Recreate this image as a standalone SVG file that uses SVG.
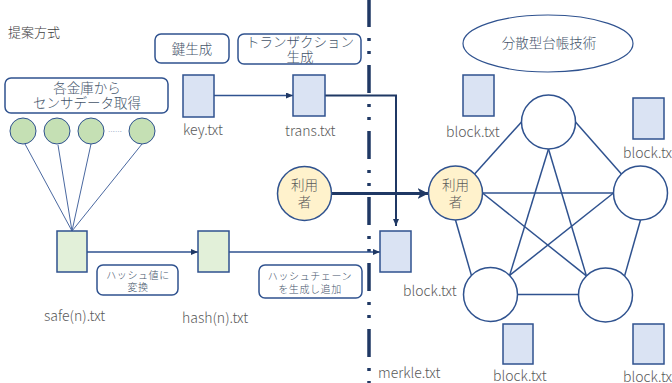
<svg xmlns="http://www.w3.org/2000/svg" width="672" height="383" viewBox="0 0 672 383">
  <style>
    text { font-family: "Noto Sans CJK JP", "Liberation Sans", sans-serif; font-weight: 300; }
    .lbl { font-size: 14px; fill: #595959; }
    .ttl { font-size: 13px; fill: #404040; }
    .btxt { font-size: 13.5px; fill: #44546A; text-anchor: middle; }
    .stxt { font-size: 10px; fill: #44546A; text-anchor: middle; letter-spacing: 0.6px; }
    .utxt { font-size: 13.5px; fill: #595959; text-anchor: middle; }
    .tag { fill: #ffffff; stroke: #2F528F; stroke-width: 1.5; }
    .doc { fill: #DAE3F3; stroke: #2F528F; stroke-width: 1.5; }
    .docg { fill: #E2F0D9; stroke: #2F528F; stroke-width: 1.5; }
    .sens { fill: #C5E0B4; stroke: #2F528F; stroke-width: 1; }
    .user { fill: #FFF2CC; stroke: #2F528F; stroke-width: 1.5; }
    .node { fill: #ffffff; stroke: #2F528F; stroke-width: 1.5; }
    .edge { stroke: #2F528F; stroke-width: 1.5; fill: none; }
    .fan { stroke: #4A68A0; stroke-width: 1; fill: none; }
    .flow { stroke: #2F528F; stroke-width: 1.5; fill: none; marker-end: url(#tip); }
    .bold { stroke: #1F3864; stroke-width: 2; fill: none; }
  </style>
  <defs>
    <marker id="tip" markerUnits="userSpaceOnUse" markerWidth="7" markerHeight="6" refX="7" refY="3" orient="auto">
      <path d="M0,0 L7,3 L0,6 z" fill="#1F3864"/>
    </marker>
    <marker id="stealth" markerUnits="userSpaceOnUse" markerWidth="12" markerHeight="12" refX="11" refY="6" orient="auto">
      <path d="M0,0.5 L11,6 L0,11.5 L3,6 z" fill="#1F3864"/>
    </marker>
  </defs>

  <!-- boundary between the local side and the distributed ledger -->
  <line id="divider" x1="369" y1="-1" x2="369" y2="383" stroke="#1F3864" stroke-width="3.5" stroke-dasharray="28 11 3 10 3 11"/>

  <text id="title" class="ttl" x="8" y="37">提案方式</text>

  <!-- connectors -->
  <g id="connectors">
    <line class="fan" x1="25" y1="144" x2="72" y2="231"/>
    <line class="fan" x1="58" y1="145" x2="72" y2="231"/>
    <line class="fan" x1="91" y1="144" x2="72" y2="231"/>
    <line class="fan" x1="142" y1="144" x2="72" y2="231"/>
    <line class="flow" x1="214" y1="95.5" x2="293" y2="95.5"/>
    <polyline class="bold" points="325,95.5 396,95.5 396,226" marker-end="url(#tip)"/>
    <line class="flow" x1="87" y1="252" x2="198" y2="252"/>
    <line class="flow" x1="229" y1="252" x2="380" y2="252"/>
    <line x1="331.5" y1="193.5" x2="428.5" y2="193.5" stroke="#1F3864" stroke-width="3" marker-end="url(#stealth)"/>
    <!-- ledger network: every peer linked to every other -->
    <line class="edge" x1="474.6" y1="173.9" x2="521.5" y2="122"/>
    <line class="edge" x1="575.5" y1="122" x2="621.4" y2="173.9"/>
    <line class="edge" x1="482.5" y1="193" x2="613.5" y2="193"/>
    <line class="edge" x1="455.5" y1="220" x2="471.4" y2="275.4"/>
    <line class="edge" x1="640.5" y1="220" x2="624.6" y2="275.9"/>
    <line class="edge" x1="517.5" y1="294.5" x2="578.5" y2="294.5"/>
    <line class="edge" x1="548.5" y1="149" x2="509.6" y2="275.4"/>
    <line class="edge" x1="548.5" y1="149" x2="586.4" y2="275.9"/>
    <line class="edge" x1="482.5" y1="193" x2="586.4" y2="275.9"/>
    <line class="edge" x1="613.5" y1="193" x2="509.6" y2="275.4"/>
  </g>

  <!-- sensor acquisition -->
  <g id="collect">
    <rect class="tag" x="5" y="78" width="163" height="35" rx="6"/>
    <text class="btxt" x="87" y="93">各金庫から</text>
    <text class="btxt" x="87" y="108">センサデータ取得</text>
  </g>
  <g id="sensors">
    <circle class="sens" cx="23" cy="131" r="13"/>
    <circle class="sens" cx="57" cy="131" r="13"/>
    <circle class="sens" cx="91" cy="131" r="13"/>
    <text x="115" y="134" font-size="7" fill="#4A68A0" text-anchor="middle">……</text>
    <circle class="sens" cx="142" cy="131" r="13"/>
  </g>

  <g id="keygen">
    <rect class="tag" x="155" y="34" width="74" height="29" rx="6"/>
    <text class="btxt" x="192" y="54">鍵生成</text>
  </g>
  <g id="txgen">
    <rect class="tag" x="238" y="34" width="123" height="30" rx="6"/>
    <text class="btxt" x="300" y="47">トランザクション</text>
    <text class="btxt" x="300" y="62">生成</text>
  </g>

  <g id="key">
    <rect class="doc" x="183" y="75" width="31" height="42"/>
    <text class="lbl" x="183" y="135">key.txt</text>
  </g>
  <g id="trans">
    <rect class="doc" x="293" y="75" width="32" height="41"/>
    <text class="lbl" x="285" y="136">trans.txt</text>
  </g>

  <g id="safe">
    <rect class="docg" x="57" y="231" width="30" height="41"/>
    <text class="lbl" x="44" y="321">safe(n).txt</text>
  </g>
  <g id="tohash">
    <rect class="tag" x="97" y="265" width="81" height="30" rx="6"/>
    <text class="stxt" x="138" y="279">ハッシュ値に</text>
    <text class="stxt" x="138" y="291">変換</text>
  </g>
  <g id="hash">
    <rect class="docg" x="198" y="231" width="31" height="41"/>
    <text class="lbl" x="182" y="323">hash(n).txt</text>
  </g>
  <g id="chain">
    <rect class="tag" x="259" y="265" width="103" height="33" rx="6"/>
    <text class="stxt" x="310" y="280">ハッシュチェーン</text>
    <text class="stxt" x="310" y="293">を生成し追加</text>
  </g>

  <g id="merkle">
    <rect class="doc" x="380" y="231" width="31" height="41"/>
    <text class="lbl" x="403" y="296">block.txt</text>
    <text class="lbl" x="378" y="378">merkle.txt</text>
  </g>

  <g id="user-local">
    <circle class="user" cx="304.5" cy="193.5" r="27"/>
    <text class="utxt" x="304.5" y="190">利用</text>
    <text class="utxt" x="304.5" y="207">者</text>
  </g>

  <!-- distributed ledger -->
  <g id="ledger">
    <ellipse cx="548" cy="43.5" rx="85" ry="28.5" fill="#ffffff" stroke="#2F528F" stroke-width="1.2"/>
    <text class="btxt" x="549" y="48">分散型台帳技術</text>
  </g>
  <g id="user-peer">
    <circle class="user" cx="455.5" cy="193" r="27"/>
    <text class="utxt" x="455.5" y="190">利用</text>
    <text class="utxt" x="455.5" y="207">者</text>
  </g>
  <g id="peer-top"><circle class="node" cx="548.5" cy="122" r="27"/></g>
  <g id="peer-right"><circle class="node" cx="640.5" cy="193" r="27"/></g>
  <g id="peer-bl"><circle class="node" cx="490.5" cy="294.5" r="27"/></g>
  <g id="peer-br"><circle class="node" cx="605.5" cy="295" r="27"/></g>

  <g id="block1">
    <rect class="doc" x="463" y="75" width="31" height="41"/>
    <text class="lbl" x="446" y="137">block.txt</text>
  </g>
  <g id="block2">
    <rect class="doc" x="633" y="98" width="31" height="41"/>
    <text class="lbl" x="623" y="158">block.txt</text>
  </g>
  <g id="block3">
    <rect class="doc" x="503" y="324" width="30" height="40"/>
    <text class="lbl" x="493" y="381">block.txt</text>
  </g>
  <g id="block4">
    <rect class="doc" x="633" y="324" width="31" height="40"/>
    <text class="lbl" x="623" y="382">block.txt</text>
  </g>
</svg>
